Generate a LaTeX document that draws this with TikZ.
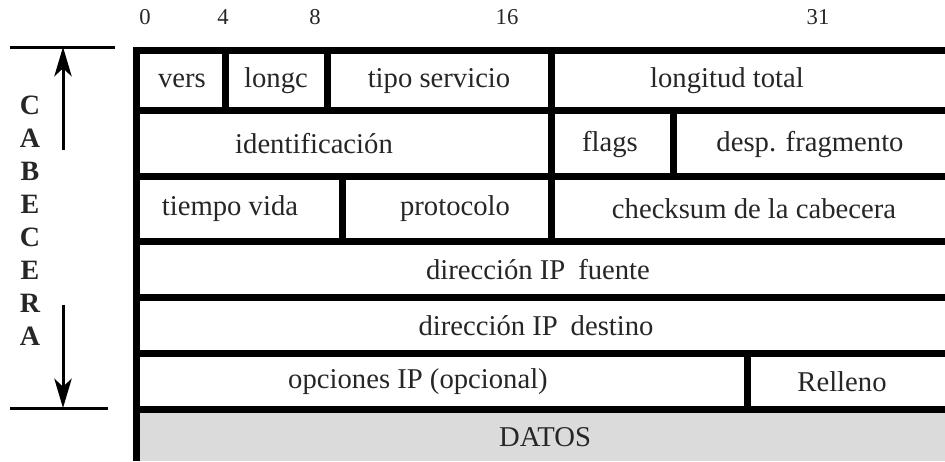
\documentclass[tikz,border=0pt]{standalone}
\usepackage{fontspec}
\setmainfont{Liberation Serif}
\usetikzlibrary{arrows.meta}

\begin{document}
\begin{tikzpicture}[x=0.75pt, y=-0.75pt,
    campo/.style={font=\fontsize{21.5}{24}\selectfont, text=black!85, inner sep=0pt},
    bit/.style={font=\fontsize{17}{20}\selectfont, text=black!85, inner sep=0pt},
    letra/.style={font=\fontsize{21}{24}\selectfont\bfseries, text=black!85, inner sep=0pt},
    borde/.style={line width=5.25pt},
    marca/.style={line width=2.25pt}]
    \useasboundingbox (0,0) rectangle (945,461);
    % zona de datos
    \fill[gray!28] (136.5,409) rectangle (945,461);
    % numeros de bit
    \node[bit] (b0) at (145,17) {0};
    \node[bit] (b4) at (223,17) {4};
    \node[bit] (b8) at (315,17) {8};
    \node[bit] (b16) at (507,17) {16};
    \node[bit] (b31) at (818,17) {31};
    % rejilla de la cabecera
    \draw[borde] (136.5,46.5) -- (136.5,461);
    \foreach \y in {50,110,176,241,297,353,409}
      \draw[borde] (133.5,\y) -- (945,\y);
    \draw[borde] (225,50) -- (225,110);
    \draw[borde] (327,50) -- (327,110);
    \draw[borde] (551,50) -- (551,241);
    \draw[borde] (673,110) -- (673,176);
    \draw[borde] (342,176) -- (342,241);
    \draw[borde] (747,353) -- (747,409);
    % campos
    \node[campo] (vers) at (182,81) {vers};
    \node[campo] (longc) at (276,81) {longc};
    \node[campo] (tipo) at (439,81) {tipo servicio};
    \node[campo] (longitud) at (727,81) {longitud total};
    \node[campo] (ident) at (314,144) {identificación};
    \node[campo] (flags) at (610,144) {flags};
    \node[campo] (desp) at (810,144) {desp. fragmento};
    \node[campo] (vida) at (230,209) {tiempo vida};
    \node[campo] (proto) at (455,209) {protocolo};
    \node[campo] (check) at (754,209) {checksum de la cabecera};
    \node[campo] (fuente) at (538,270) {dirección IP\hspace{0.45em}fuente};
    \node[campo] (destino) at (536,326) {dirección IP\hspace{0.45em}destino};
    \node[campo] (opciones) at (418,382) {opciones IP (opcional)};
    \node[campo] (relleno) at (842,382) {Relleno};
    \node[campo] (datos) at (545,437) {DATOS};
    % cota lateral
    \coordinate (sup) at (63,47);
    \coordinate (inf) at (63,408);
    \coordinate (supcola) at (63,150);
    \coordinate (infcola) at (63,305);
    \draw[marca] (10,47) -- (115,47);
    \draw[marca] (10,408) -- (108,408);
    \draw[marca, -{Stealth[length=22pt, width=13pt, inset=6pt]}] (supcola) -- (sup);
    \draw[marca, -{Stealth[length=22pt, width=13pt, inset=6pt]}] (infcola) -- (inf);
    \foreach \l [count=\i from 0] in {C,A,B,E,C,E,R,A}
      \node[letra] (l\i) at (30,105+33*\i) {\l};
\end{tikzpicture}
\end{document}
